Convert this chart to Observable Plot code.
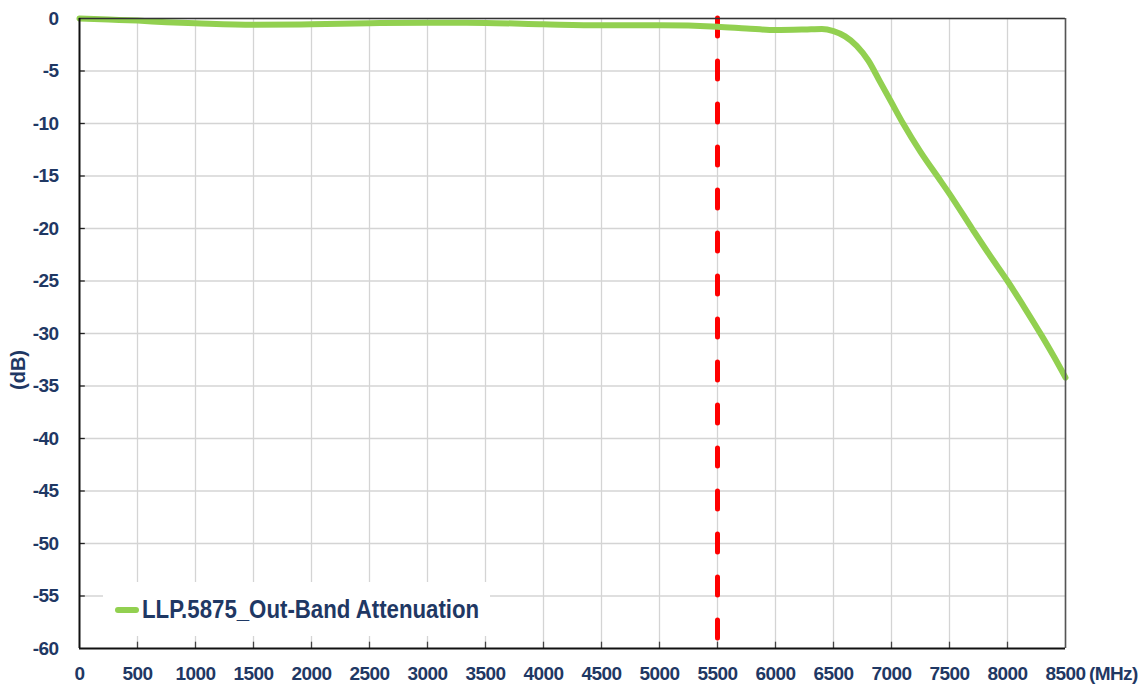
<!DOCTYPE html>
<html>
<head>
<meta charset="utf-8">
<script src="https://cdn.jsdelivr.net/npm/d3@7"></script>
<script src="https://cdn.jsdelivr.net/npm/@observablehq/plot@0.6"></script>
<style>
  html, body { margin: 0; padding: 0; background: #fff; }
  #wrap { position: relative; width: 1141px; height: 687px; overflow: hidden; }
  .lbl { position: absolute; font-family: "Liberation Sans Narrow", "Arial Narrow", "Liberation Sans", Arial, sans-serif; font-weight: bold; color: #1F3864; white-space: nowrap; }
  #legend { position: absolute; left: 103px; top: 582px; width: 387px; height: 54px; background: #fff; }
  #legend .sw { position: absolute; left: 12px; top: 25px; width: 24px; height: 6px; background: #92D050; border-radius: 3px; }
  #legend .tx { position: absolute; left: 39px; top: 12px; font-size: 26px; line-height: 30px; transform: scaleX(0.855); transform-origin: 0 50%; }
  svg text { letter-spacing: -0.6px; }
</style>
</head>
<body>
<div id="wrap"></div>
<script>
const freq = [0, 250, 500, 750, 1000, 1500, 2000, 2500, 3000, 3500, 4000, 4500, 5000, 5500, 5750, 6000, 6250, 6400, 6500, 6600, 6700, 6800, 6900, 7000, 7100, 7250, 7400, 7500, 7700, 7850, 8000, 8150, 8300, 8400, 8500];
const atten = [0, -0.1, -0.2, -0.35, -0.45, -0.6, -0.55, -0.45, -0.4, -0.42, -0.55, -0.65, -0.65, -0.78, -0.95, -1.1, -1.05, -1.0, -1.2, -1.7, -2.6, -4.0, -6.0, -8.0, -10.0, -12.7, -15.1, -16.7, -20.1, -22.6, -25.0, -27.6, -30.3, -32.2, -34.2];
const xTicks = d3.range(0, 8501, 500);
const yTicks = d3.range(-60, 1, 5);
const cutoff = [5500];
const seriesName = "LLP.5875_Out-Band Attenuation";

const data = freq.map((f, i) => ({f, a: atten[i]}));
const font = '"Liberation Sans Narrow", "Arial Narrow", "Liberation Sans", Arial, sans-serif';
const txtColor = "#1F3864";

const chart = Plot.plot({
  width: 1141,
  height: 687,
  marginLeft: 79,
  marginRight: 76,
  marginTop: 18,
  marginBottom: 39,
  style: {fontFamily: font, background: "#fff", overflow: "visible"},
  x: {domain: [0, 8500]},
  y: {domain: [-60, 0]},
  marks: [
    Plot.ruleX(xTicks.slice(1), {stroke: "#d4d4d4", strokeWidth: 1.3}),
    Plot.ruleY(yTicks.slice(1), {stroke: "#d4d4d4", strokeWidth: 1.3}),
    Plot.ruleX(xTicks.slice(1, -1), {y1: -60, y2: -59.4, stroke: "#444", strokeWidth: 1.3}),
    Plot.ruleY(yTicks.slice(1, -1), {x1: 0, x2: 50, stroke: "#222", strokeWidth: 1.3}),
    Plot.axisX({ticks: xTicks, tickSize: 0, tickPadding: 18, tickFormat: d => String(d), fontSize: 19, fontWeight: "bold", fill: txtColor, anchor: "bottom", label: null}),
    Plot.axisY({ticks: yTicks, tickSize: 0, tickPadding: 21, tickFormat: d => String(d), fontSize: 19, fontWeight: "bold", fill: txtColor, anchor: "left", label: null}),
    Plot.ruleX(cutoff, {stroke: "#FF0000", strokeWidth: 5, strokeDasharray: "18,25", strokeLinecap: "round"}),
    Plot.line(data, {x: "f", y: "a", stroke: "#92D050", strokeWidth: 6, curve: "monotone-x", strokeLinecap: "round"}),
    Plot.ruleY([0], {stroke: "#333", strokeWidth: 1.6}),
    Plot.ruleX([8500], {stroke: "#555", strokeWidth: 1.6}),
    Plot.ruleY([-60], {stroke: "#111", strokeWidth: 2}),
    Plot.ruleX([0], {stroke: "#111", strokeWidth: 2})
  ]
});

const wrap = document.getElementById("wrap");
wrap.appendChild(chart);

const legend = document.createElement("div");
legend.id = "legend";
legend.innerHTML = '<div class="sw"></div><div class="lbl tx"></div>';
legend.querySelector(".tx").textContent = seriesName;
wrap.appendChild(legend);

const mhz = document.createElement("div");
mhz.className = "lbl";
mhz.textContent = "(MHz)";
mhz.style.cssText = "left:1089px; top:662px; font-size:19px; line-height:24px; letter-spacing:-0.6px;";
wrap.appendChild(mhz);

const db = document.createElement("div");
db.className = "lbl";
db.textContent = "(dB)";
db.style.cssText = "left:-4px; top:358px; font-size:20px; line-height:24px; width:44px; text-align:center; transform: rotate(-90deg);";
wrap.appendChild(db);
</script>
</body>
</html>
